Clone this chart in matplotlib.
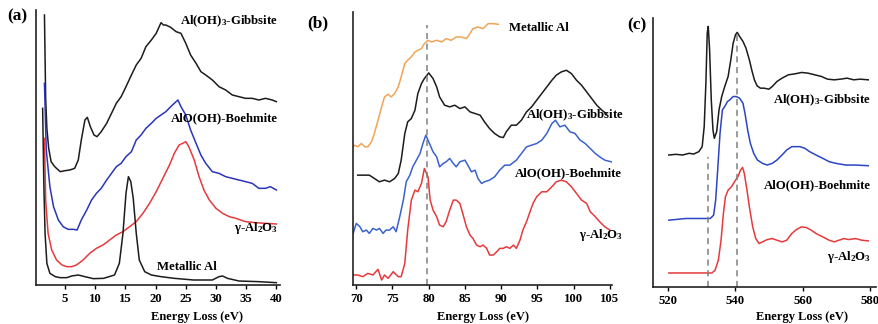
import matplotlib
matplotlib.use("Agg")
import matplotlib.pyplot as plt

plt.rcParams['font.family'] = ['Liberation Serif', 'DejaVu Serif']
plt.rcParams['font.weight'] = 'bold'
plt.rcParams['mathtext.fontset'] = 'custom'
plt.rcParams['mathtext.rm'] = 'Liberation Serif:bold'
plt.rcParams['mathtext.it'] = 'Liberation Serif:bold:italic'
plt.rcParams['mathtext.bf'] = 'Liberation Serif:bold'
plt.rcParams['mathtext.default'] = 'rm'

# ---------------- Panel (a): low-loss ----------------
a_gib_x = [1.6, 1.8, 2.0, 2.3, 2.7, 3.3, 4.2, 5.0, 5.8, 6.6, 7.2, 7.7, 8.3, 8.7, 9.2, 9.8, 10.3, 11.0, 11.9,
           12.7, 13.5, 14.3, 15.1, 16.0, 16.8, 17.6, 18.4, 19.3, 20.1, 20.9, 21.3, 21.7, 22.5, 23.4, 24.2,
           25.0, 25.8, 26.7, 27.5, 28.3, 29.4, 30.5, 31.6, 32.7, 33.8, 34.9, 36.0, 37.1, 38.2, 39.3, 40.0]
a_gib_y = [810, 560, 470, 410, 370, 355, 340, 343, 345, 350, 375, 435, 495, 503, 475, 450, 445, 460, 485,
           515, 545, 565, 595, 630, 660, 680, 715, 735, 755, 787, 780, 780, 773, 760, 755,
           725, 690, 665, 640, 630, 615, 595, 585, 570, 565, 560, 560, 555, 560, 555, 550]

a_boe_x = [1.6, 1.9, 2.5, 3.1, 3.9, 4.7, 5.5, 6.4, 7.0, 7.7, 8.6, 9.4, 10.2, 11.0, 11.9, 12.7, 13.5, 14.3,
           15.1, 16.0, 16.8, 17.6, 18.4, 19.3, 20.1, 20.9, 21.7, 22.5, 23.4, 23.7, 24.2, 25.0, 25.8, 26.7,
           27.5, 28.3, 29.4, 30.5, 31.6, 32.7, 33.8, 34.9, 36.0, 37.1, 38.2, 39.0, 40.0]
a_boe_y = [605, 405, 295, 235, 195, 175, 167, 167, 165, 195, 225, 255, 275, 290, 315, 335, 355, 365,
           385, 400, 435, 450, 470, 485, 500, 510, 520, 535, 550, 555, 535, 510, 465, 425,
           390, 365, 340, 335, 325, 320, 315, 310, 305, 290, 290, 295, 285]

a_gam_x = [1.6, 1.8, 2.2, 2.8, 3.6, 4.5, 5.3, 6.1, 6.9, 8.0, 9.1, 10.2, 11.3, 12.4, 13.5, 14.6, 15.7, 16.8,
           17.9, 19.0, 20.1, 21.2, 22.3, 23.1, 23.9, 24.7, 25.0, 25.5, 26.4, 27.2, 28.0, 28.9, 30.0, 31.1,
           32.2, 33.3, 34.9, 36.5, 38.2, 40.0]
a_gam_y = [440, 255, 155, 105, 75, 60, 55, 55, 60, 75, 95, 110, 120, 135, 150, 160, 175, 190,
           215, 245, 280, 320, 360, 395, 420, 427, 430, 415, 375, 325, 285, 255, 230, 215,
           205, 200, 190, 187, 185, 183]

a_met_x = [1.3, 1.5, 1.7, 2.0, 2.5, 3.4, 4.2, 5.3, 6.1, 7.2, 8.3, 9.7, 11.4, 13.2, 14.0, 14.6, 15.1, 15.5,
           15.9, 16.3, 16.8, 17.3, 18.2, 19.3, 20.9, 23.1, 26.3, 29.4, 30.5, 31.1, 31.9, 33.8, 37.1, 40.0]
a_met_y = [530, 300, 155, 65, 35, 25, 22, 22, 27, 30, 25, 19, 20, 30, 65, 155, 275, 325,
           310, 260, 155, 75, 40, 30, 25, 20, 15, 15, 25, 27, 20, 12, 10, 7]

a_ticks = [5, 10, 15, 20, 25, 30, 35, 40]

# ---------------- Panel (b): Al L-edge ----------------
b_met_x = [69.6, 69.8, 70.2, 70.7, 71.2, 71.6, 72.1, 72.5, 73.0, 73.5, 73.9, 74.4, 74.8, 75.3, 75.8, 76.2,
           76.7, 77.1, 77.6, 78.1, 78.5, 79.0, 79.4, 79.9, 80.4, 81.1, 81.8, 82.4, 83.1, 83.8, 84.5, 85.2,
           85.7, 86.1, 86.8, 87.5, 88.2, 88.9, 89.6]
b_met_y = [415, 420, 415, 425, 415, 415, 430, 455, 495, 535, 565, 573, 565, 575, 595, 625,
           665, 675, 685, 700, 705, 710, 725, 735, 730, 735, 730, 740, 735, 745, 745, 740,
           755, 770, 775, 770, 785, 785, 783]

b_gib_x = [70.2, 71.2, 71.8, 72.5, 73.2, 73.9, 74.6, 75.3, 75.8, 76.2, 76.7, 77.1, 77.6, 78.1, 78.5, 79.0,
           79.4, 80.0, 80.6, 81.1, 81.5, 82.2, 82.9, 83.6, 84.3, 85.0, 85.7, 86.4, 87.1, 87.7, 88.4, 89.1,
           89.8, 90.3, 90.7, 91.4, 92.1, 92.8, 93.5, 94.2, 94.9, 95.6, 96.3, 97.0, 97.6, 98.3, 99.0, 99.7,
           100.4, 101.1, 101.8, 102.5, 103.2, 103.9, 104.5]
b_gib_y = [330, 330, 330, 320, 310, 315, 310, 320, 335, 375, 455, 490, 500, 525, 575, 605,
           620, 637, 620, 595, 565, 540, 535, 540, 530, 535, 520, 515, 510, 490, 470, 455,
           445, 443, 460, 480, 480, 495, 520, 535, 555, 575, 595, 615, 630, 640, 645, 635,
           615, 600, 580, 560, 540, 525, 515]

b_boe_x = [69.5, 70.0, 70.5, 70.9, 71.4, 71.8, 72.3, 72.8, 73.2, 73.7, 74.1, 74.6, 75.1, 75.5, 76.0, 76.5,
           76.9, 77.4, 77.8, 78.3, 78.8, 79.2, 79.6, 80.1, 80.6, 81.1, 81.5, 82.0, 82.4, 82.9, 83.4, 83.8,
           84.3, 85.0, 85.4, 85.9, 86.4, 86.8, 87.3, 87.7, 88.4, 89.1, 89.8, 90.5, 91.2, 92.1, 92.8, 93.5,
           94.2, 94.9, 95.6, 96.3, 97.0, 97.5, 98.1, 98.8, 99.5, 100.2, 100.9, 101.6, 102.3, 103.0, 103.6,
           104.3, 105.2]
b_boe_y = [150, 185, 175, 160, 165, 155, 170, 165, 170, 155, 165, 165, 175, 160, 205, 255,
           310, 330, 355, 375, 395, 425, 450, 425, 400, 385, 355, 365, 370, 380, 365, 355,
           370, 375, 360, 340, 345, 320, 305, 310, 315, 325, 345, 360, 360, 375, 395, 415,
           420, 425, 435, 455, 485, 495, 475, 480, 460, 455, 435, 425, 410, 395, 385,
           375, 370]

b_gam_x = [69.5, 70.2, 70.9, 71.6, 72.3, 73.0, 73.5, 73.9, 74.4, 75.1, 75.8, 76.2, 76.7, 77.1, 77.6, 78.1,
           78.5, 79.0, 79.4, 79.9, 80.2, 80.6, 81.1, 81.5, 82.0, 82.4, 82.9, 83.4, 83.8, 84.3, 84.7, 85.2,
           85.7, 86.1, 86.6, 87.1, 87.5, 88.0, 88.4, 88.9, 89.4, 89.8, 90.3, 90.7, 91.2, 91.7, 92.1, 92.6,
           93.0, 93.5, 93.9, 94.4, 94.9, 95.6, 96.3, 97.0, 97.6, 98.3, 99.0, 99.7, 100.4, 101.1, 101.8,
           102.3, 103.0, 103.6, 104.3, 105.0]
b_gam_y = [30, 30, 25, 35, 30, 47, 15, 30, 20, 40, 25, 25, 65, 165, 255, 285,
           280, 305, 350, 325, 255, 225, 205, 180, 175, 190, 225, 255, 255, 245, 215, 175,
           150, 140, 120, 115, 120, 110, 90, 90, 100, 110, 110, 115, 110, 120, 110, 135,
           165, 190, 215, 245, 265, 280, 280, 295, 310, 315, 310, 295, 275, 255, 245,
           220, 205, 190, 175, 165]

b_ticks = [70, 75, 80, 85, 90, 95, 100, 105]
b_dash = [79.7]

# ---------------- Panel (c): O K-edge ----------------
c_gib_x = [520.3, 522.4, 524.4, 526.3, 527.7, 529.2, 530.2, 530.8, 531.3, 531.7, 532.0, 532.4, 532.9, 533.4,
           533.8, 534.5, 535.2, 536.0, 536.9, 537.9, 538.7, 539.4, 540.1, 540.6, 541.3, 542.3, 543.2, 544.2,
           544.9, 545.7, 546.5, 547.5, 548.6, 550.0, 551.0, 552.4, 553.9, 555.8, 557.8, 559.7, 561.6, 563.6,
           565.6, 567.4, 569.4, 571.3, 573.2, 575.2, 577.1, 579.5]
c_gib_y = [395, 397, 395, 400, 398, 405, 420, 480, 610, 760, 780, 710, 560, 470,
           445, 465, 530, 570, 600, 630, 680, 730, 755, 762, 750, 735, 715, 680,
           650, 620, 602, 595, 595, 592, 600, 615, 625, 635, 638, 642, 640, 635,
           630, 622, 620, 622, 625, 620, 622, 620]

c_boe_x = [520.3, 522.4, 525.3, 528.2, 531.1, 532.6, 533.6, 534.2, 534.8, 535.5, 536.2, 536.9, 537.7, 538.4,
           539.4, 540.3, 541.3, 542.3, 542.9, 543.7, 544.5, 545.5, 546.6, 548.1, 549.5, 551.0, 552.4, 553.9,
           555.3, 556.8, 558.2, 559.2, 560.7, 562.1, 564.0, 566.0, 567.9, 569.9, 572.8, 575.7, 579.5]
c_boe_y = [200, 202, 205, 205, 205, 205, 215, 260, 350, 460, 530, 540, 555, 560,
           570, 570, 565, 550, 520, 470, 430, 400, 380, 370, 365, 370, 380, 395,
           410, 420, 420, 420, 415, 405, 395, 385, 375, 370, 365, 365, 363]

c_gam_x = [520.3, 525.0, 529.0, 531.1, 533.1, 534.0, 535.0, 535.8, 536.5, 537.1, 537.9, 538.9, 539.8, 540.8,
           541.6, 542.2, 542.7, 543.5, 544.2, 545.2, 546.1, 547.1, 548.1, 549.5, 551.0, 552.4, 553.9, 555.3,
           556.8, 558.2, 559.7, 561.1, 562.6, 564.0, 566.0, 567.9, 569.4, 570.8, 572.3, 573.7, 575.7, 577.6,
           579.5]
c_gam_y = [42, 42, 42, 42, 42, 50, 80, 140, 220, 270, 290, 300, 315, 330,
           350, 358, 340, 290, 240, 180, 145, 130, 135, 142, 145, 140, 135, 140,
           160, 172, 180, 178, 170, 160, 150, 140, 135, 140, 145, 142, 145, 140,
           138]

c_ticks = [520, 540, 560, 580]
c_dash = [531.8, 540.5]
c_dash_top = [390, 760]

BLACK = '#1c1c1c'
BLUE_A = '#2a35b8'
BLUE_B = '#3a62cc'
BLUE_C = '#2b45c4'
RED = '#e63a3c'
ORANGE = '#f0a458'
DASH = '#808080'
LW = 1.1
LFS = 9.2
XLFS = 9

fig = plt.figure(figsize=(8.79, 3.24), dpi=100)
W, H = 879.0, 324.0


def make_ax(l, r, t, b):
    ax = fig.add_axes([l / W, 1 - b / H, (r - l) / W, (b - t) / H])
    for s in ['top', 'right']:
        ax.spines[s].set_visible(False)
    for s in ['left', 'bottom']:
        ax.spines[s].set_linewidth(1.2)
        ax.spines[s].set_color('#222222')
    ax.set_yticks([])
    ax.tick_params(axis='x', direction='out', length=3, width=1, pad=3, labelsize=9.2)
    return ax


def put_xlabel(ax, xc_px, l, r, t, b):
    ax.set_xlabel('Energy Loss (eV)', fontsize=XLFS, fontweight='bold')
    ax.xaxis.set_label_coords((xc_px - l) / (r - l), -(311 - b) / (b - t))


# Panel (a)
A = (36, 280, 10, 285)
ax = make_ax(*A)
ax.plot(a_gib_x, a_gib_y, color=BLACK, lw=LW)
ax.plot(a_boe_x, a_boe_y, color=BLUE_A, lw=LW)
ax.plot(a_gam_x, a_gam_y, color=RED, lw=LW)
ax.plot(a_met_x, a_met_y, color=BLACK, lw=LW)
ax.set_xlim(0.2, 40.6)
ax.set_ylim(0, 825)
ax.set_xticks(a_ticks)
ax.set_xticklabels([str(t) for t in a_ticks], fontweight='bold')
put_xlabel(ax, 197, *A)
ax.text(40.3, 790, 'Al(OH)$_3$-Gibbsite', ha='right', va='center', fontsize=LFS, fontweight='bold')
ax.text(40.3, 500, 'AlO(OH)-Boehmite', ha='right', va='center', fontsize=LFS, fontweight='bold')
ax.text(40.3, 170, 'γ-Al$_2$O$_3$', ha='right', va='center', fontsize=LFS, fontweight='bold')
ax.text(30.2, 55, 'Metallic Al', ha='right', va='center', fontsize=LFS, fontweight='bold')
fig.text(7 / W, 1 - 16 / H, '(a)', fontsize=12.5, fontweight='bold', va='center', ha='left')

# Panel (b)
B = (353, 612, 12, 285)
ax = make_ax(*B)
ax.plot(b_met_x, b_met_y, color=ORANGE, lw=LW)
ax.plot(b_gib_x, b_gib_y, color=BLACK, lw=LW)
ax.plot(b_boe_x, b_boe_y, color=BLUE_B, lw=LW)
ax.plot(b_gam_x, b_gam_y, color=RED, lw=LW)
for xd in b_dash:
    ax.plot([xd, xd], [0, 780], color=DASH, lw=1.1, ls=(0, (4, 3)))
ax.set_xlim(69.55, 105.3)
ax.set_ylim(0, 820)
ax.set_xticks(b_ticks)
ax.set_xticklabels([str(t) for t in b_ticks], fontweight='bold')
put_xlabel(ax, 483, *B)
ax.text(91.1, 772, 'Metallic Al', ha='left', va='center', fontsize=LFS, fontweight='bold')
ax.text(107.0, 510, 'Al(OH)$_3$-Gibbsite', ha='right', va='center', fontsize=LFS, fontweight='bold',
        clip_on=False)
ax.text(106.6, 335, 'AlO(OH)-Boehmite', ha='right', va='center', fontsize=LFS, fontweight='bold',
        clip_on=False)
ax.text(106.9, 150, 'γ-Al$_2$O$_3$', ha='right', va='center', fontsize=LFS, fontweight='bold',
        clip_on=False)
fig.text(307 / W, 1 - 23 / H, '(b)', fontsize=12.5, fontweight='bold', va='center', ha='left')

# Panel (c)
C = (653, 876, 18, 287)
ax = make_ax(*C)
ax.plot(c_gib_x, c_gib_y, color=BLACK, lw=LW)
ax.plot(c_boe_x, c_boe_y, color=BLUE_C, lw=LW)
ax.plot(c_gam_x, c_gam_y, color=RED, lw=LW)
for xd, top in zip(c_dash, c_dash_top):
    ax.plot([xd, xd], [0, top], color=DASH, lw=1.1, ls=(0, (4, 3)))
ax.set_xlim(515.6, 581.8)
ax.set_ylim(0, 805)
ax.set_xticks(c_ticks)
ax.set_xticklabels([str(t) for t in c_ticks], fontweight='bold')
put_xlabel(ax, 802, *C)
ax.text(580.3, 560, 'Al(OH)$_3$-Gibbsite', ha='right', va='center', fontsize=LFS, fontweight='bold')
ax.text(580.3, 305, 'AlO(OH)-Boehmite', ha='right', va='center', fontsize=LFS, fontweight='bold')
ax.text(580.3, 90, 'γ-Al$_2$O$_3$', ha='right', va='center', fontsize=LFS, fontweight='bold')
fig.text(627 / W, 1 - 25 / H, '(c)', fontsize=12.5, fontweight='bold', va='center', ha='left')

fig.savefig('out.png', dpi=100)
